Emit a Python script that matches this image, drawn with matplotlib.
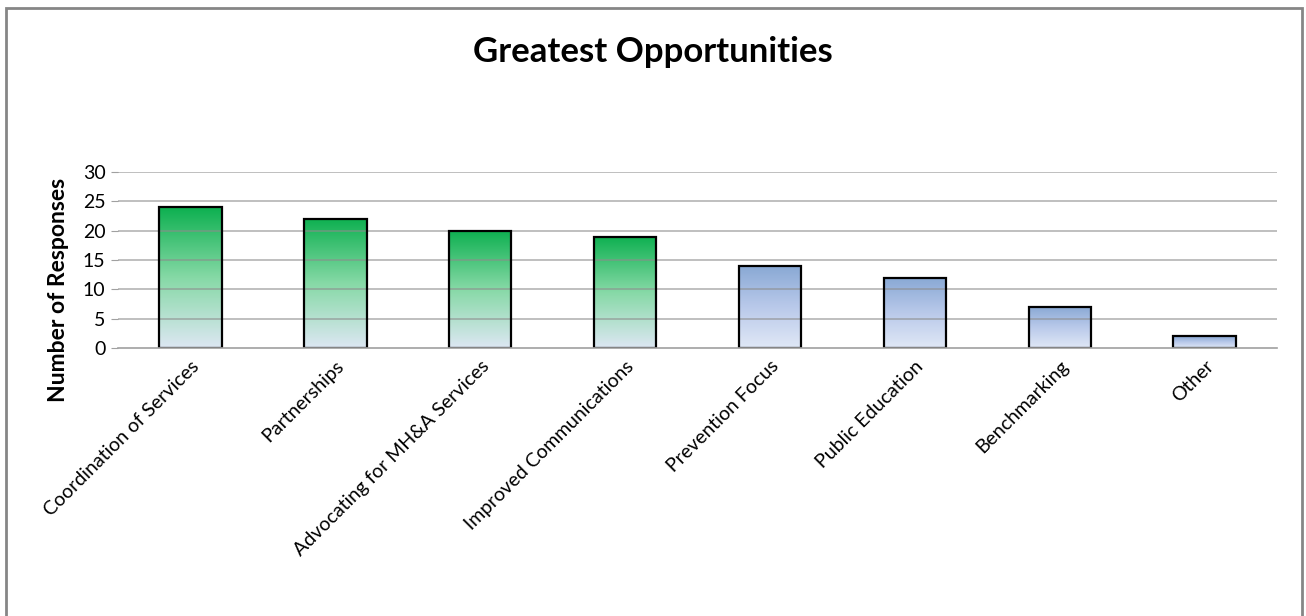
import matplotlib.pyplot as plt
from matplotlib.colors import LinearSegmentedColormap
from matplotlib.patches import Rectangle
import numpy as np

plt.rcParams['font.family'] = ['Lato', 'DejaVu Sans']

categories = ['Coordination of Services', 'Partnerships', 'Advocating for MH&A Services',
              'Improved Communications', 'Prevention Focus', 'Public Education',
              'Benchmarking', 'Other']
responses = [24, 22, 20, 19, 14, 12, 7, 2]
# first four bars are green, the rest blue
groups = ['green', 'green', 'green', 'green', 'blue', 'blue', 'blue', 'blue']
yticks = [0, 5, 10, 15, 20, 25, 30]

GRADIENTS = {
    'green': LinearSegmentedColormap.from_list('g', ['#dde7f3', '#86d9a6', '#0db050']),
    'blue': LinearSegmentedColormap.from_list('b', ['#e0e8f6', '#b9c9ea', '#88a8d4']),
}

fig = plt.figure(figsize=(13.06, 6.16), dpi=100)
ax = fig.add_axes([0.0904, 0.4351, 0.8874, 0.2857])

x = np.arange(len(categories))
width = 0.43
grad = np.linspace(0, 1, 256).reshape(-1, 1)

for xi, val, grp in zip(x, responses, groups):
    bar = Rectangle((xi - width / 2, 0), width, val, facecolor='none',
                    edgecolor='black', linewidth=1.6, zorder=4)
    ax.add_patch(bar)
    img = ax.imshow(grad, cmap=GRADIENTS[grp], origin='lower', aspect='auto',
                    extent=(xi - width / 2, xi + width / 2, 0, val), zorder=2)
    img.set_clip_path(bar)

ax.set_xlim(-0.5, len(categories) - 0.5)
ax.set_ylim(0, 30)
ax.set_yticks(yticks)
for t in yticks[1:]:
    ax.axhline(t, color='#8c8c8c', linewidth=1.1, alpha=0.7, zorder=3)

ax.set_xticks(x)
ax.set_xticklabels(categories, rotation=45, ha='right', rotation_mode='anchor', fontsize=14)
ax.tick_params(axis='x', length=0, pad=7)
ax.tick_params(axis='y', length=5, color='#a0a0a0', labelsize=14, pad=4)

for side in ['left', 'right', 'top']:
    ax.spines[side].set_visible(False)
ax.spines['bottom'].set_color('#a0a0a0')
ax.spines['bottom'].set_linewidth(1.2)
ax.spines['bottom'].set_zorder(5)

ax.set_ylabel('Number of Responses', fontsize=16.5, fontweight='bold')
ax.yaxis.set_label_coords(-0.042, 0.33)
fig.text(0.5, 0.915, 'Greatest Opportunities', ha='center', va='center',
         fontsize=25, fontweight='bold')

# outer chart border
border = Rectangle((6 / 1306, -0.05), 1296 / 1306, 1.05 - 8 / 616,
                   transform=fig.transFigure, fill=False, edgecolor='#868686',
                   linewidth=2)
fig.patches.append(border)

fig.savefig('out.png', dpi=100)
